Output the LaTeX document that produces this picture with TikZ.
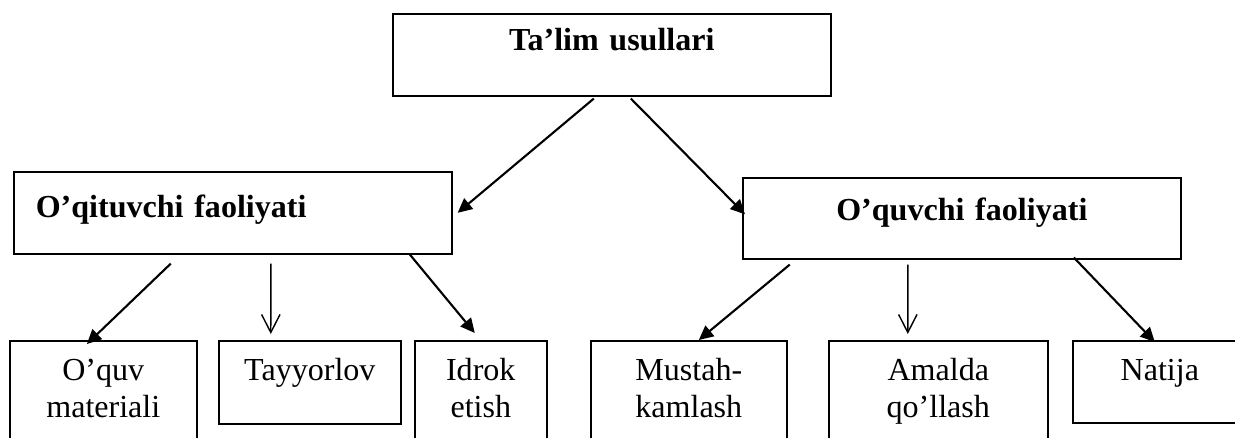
\documentclass[tikz,border=0pt]{standalone}
\usepackage{fontspec}
\setmainfont{Liberation Serif}
\usetikzlibrary{arrows.meta}

\begin{document}
\begin{tikzpicture}[x=.025cm, y=-.025cm,
  box/.style={draw, line width=1.1pt, inner sep=0pt, anchor=north west, align=center,
    font=\fontsize{22.8pt}{26.3pt}\selectfont, text height=1cm},
  big/.style={box, text width=10.95cm, font=\fontsize{22.8pt}{26.3pt}\selectfont\bfseries},
  arr/.style={-{Triangle[length=3.6mm,width=3.4mm]}, line width=1.5pt},
  varr/.style={-{Straight Barb[length=4.5mm,width=4.6mm]}, line width=1pt}]
\useasboundingbox (0,0) rectangle (1235,437);
\clip (0,0) rectangle (1235,437);

\node[big, text height=.925cm, text depth=1.125cm] (ta) at (392,13) {Ta’lim usullari};
\node[big, text width=9.85cm, inner xsep=.55cm, align=left, text height=1.15cm, text depth=.9cm] (ql) at (13,171) {O’qituvchi faoliyati};
\node[big, text height=1.075cm, text depth=.95cm] (qr) at (742,177) {O’quvchi faoliyati};

\node[box, text width=4.675cm, text depth=3cm] (quv) at (9,340) {O’quv\\materiali};
\node[box, text width=4.55cm, text depth=1.075cm] (tay) at (218,340) {Tayyorlov};
\node[box, text width=3.3cm, text depth=3cm] (idr) at (414,340) {Idrok\\etish};
\node[box, text width=4.9cm, text depth=3cm] (mus) at (590,340) {Mustah-\\kamlash};
\node[box, text width=5.475cm, text depth=3cm] (ama) at (828,340) {Amalda\\qo’llash};
\node[box, text width=4.35cm, text depth=1.05cm] (nat) at (1072,340) {Natija};

\draw[arr] ([xshift=-.45cm,yshift=-.05cm]ta.south) -- ([xshift=.125cm]ql.east);
\draw[arr] ([xshift=.475cm,yshift=-.05cm]ta.south) -- ([xshift=.075cm,yshift=.1cm]qr.west);

\draw[arr] ([xshift=-1.55cm,yshift=-.225cm]ql.south) -- ([xshift=-.41cm,yshift=-.1cm]quv.north);
\draw[varr] ([xshift=.95cm,yshift=-.225cm]ql.south) -- ([xshift=-.975cm,yshift=.15cm]tay.north);
\draw[arr] ([xshift=4.425cm]ql.south) -- ([xshift=-.15cm,yshift=.175cm]idr.north);

\draw[arr] ([xshift=-4.3cm,yshift=-.125cm]qr.south) -- ([xshift=.25cm]mus.north);
\draw[varr] ([xshift=-1.35cm,yshift=-.125cm]qr.south) -- ([xshift=-.7625cm,yshift=.15cm]ama.north);
\draw[arr] ([xshift=2.8cm,yshift=.05cm]qr.south) -- ([xshift=-.125cm,yshift=-.05cm]nat.north);
\end{tikzpicture}
\end{document}
